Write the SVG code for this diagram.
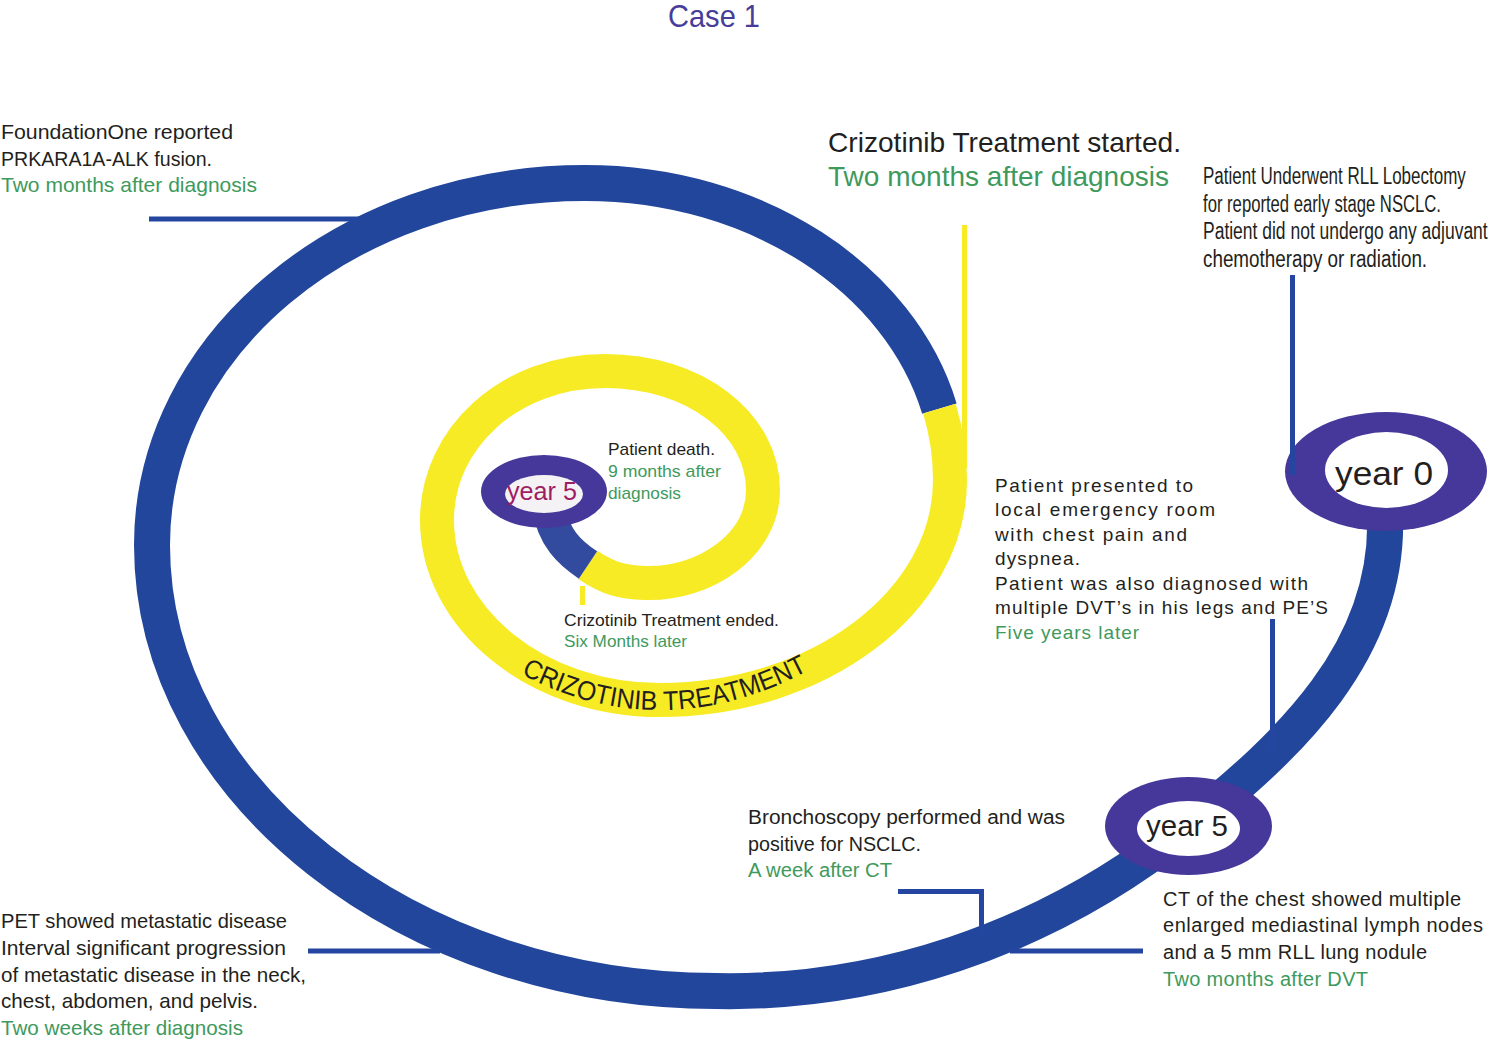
<svg xmlns="http://www.w3.org/2000/svg" width="1490" height="1041" viewBox="0 0 1490 1041">
<style>
  text { font-family: "Liberation Sans", Arial, sans-serif; fill: #231f20; }
  .g { fill: #3e9a5c; }
  .title { fill: #473d99; font-size: 32px; }
  .band { fill: none; stroke-linecap: butt; stroke-linejoin: round; }
  .blue { stroke: #22469b; stroke-width: 36; }
  .yellow { stroke: #f7eb25; stroke-width: 34; }
  .tail { stroke: #334b9e; stroke-width: 33; }
  .ring { fill: #45389a; }
  .hole { fill: #ffffff; }
  .conn { fill: none; stroke: #2446a0; stroke-width: 5; }
  .connY { fill: none; stroke: #f7eb25; stroke-width: 5; }
  .s17 { font-size: 17px; }
  .s19 { font-size: 19px; }
  .s20 { font-size: 20px; }
  .s21 { font-size: 21px; }
  .s23 { font-size: 23px; }
  .s28 { font-size: 28px; }
</style>
<defs>
  <path id="critext" d="M 521 674 Q 665 750 817 666"/>
</defs>

<text class="title" x="668" y="27" textLength="92" lengthAdjust="spacingAndGlyphs">Case 1</text>

<g id="timeline">
  <path class="band blue" d="M 1385 515 C 1390 650, 1290 745, 1188 826 C 1040 945, 870 994, 716 991 C 410 991, 152 791, 152 545 C 152 345, 346 183, 585 183 C 756.7 183, 900.3 279.1, 939.4 408.6"/>
  <path class="band yellow" d="M 939.4 408.6 C 946.3 431.5, 950 455.4, 950 480 C 950 601.5, 819 700, 660 700 C 537 700, 437 619, 437 520 C 437 438, 510 371, 605 371 C 695 371, 763 424, 763 490 C 763 545, 705 585, 645 583 C 622 582, 609 579, 588 565"/>
  <path class="band tail" d="M 588 565 C 570 553, 553 538, 548 505"/>
  <text font-size="27"><textPath href="#critext" textLength="300" lengthAdjust="spacingAndGlyphs">CRIZOTINIB TREATMENT</textPath></text>
</g>

<g id="node-year0">
  <ellipse class="ring" cx="1386" cy="471.5" rx="101" ry="59.5"/>
  <ellipse class="hole" cx="1386.5" cy="470" rx="61.5" ry="38"/>
  <text x="1335" y="485" font-size="34" textLength="98" lengthAdjust="spacingAndGlyphs">year 0</text>
</g>

<g id="node-year5">
  <ellipse class="ring" cx="1188.5" cy="826" rx="83.5" ry="49"/>
  <ellipse class="hole" cx="1188.5" cy="828.5" rx="51.5" ry="27.5"/>
  <text x="1146" y="836" font-size="29.5" textLength="82" lengthAdjust="spacingAndGlyphs">year 5</text>
</g>

<g id="node-year5-end">
  <ellipse class="ring" cx="544" cy="491.5" rx="63" ry="36.5"/>
  <ellipse cx="544" cy="494" rx="39" ry="19" fill="#f4f2f5"/>
  <text x="507" y="500" font-size="25.5" textLength="70" lengthAdjust="spacingAndGlyphs" style="fill:#9e1d63">year 5</text>
</g>

<g id="connectors">
  <path class="conn" d="M 149 219 H 360"/>
  <path class="connY" d="M 964.5 225 V 468"/>
  <path class="conn" d="M 1292.5 275 V 475"/>
  <path class="conn" d="M 1272.5 619 V 750"/>
  <path class="conn" d="M 898 891.5 H 981.5 V 935"/>
  <path class="conn" d="M 1010 951 H 1143"/>
  <path class="conn" d="M 308 951 H 440"/>
  <rect x="580" y="586" width="5" height="19" fill="#f7eb25"/>
</g>

<g id="label-foundationone" class="s21">
  <text x="1" y="139" textLength="232" lengthAdjust="spacingAndGlyphs">FoundationOne reported</text>
  <text x="1" y="165.5" textLength="211" lengthAdjust="spacingAndGlyphs">PRKARA1A-ALK fusion.</text>
  <text class="g" x="1" y="191.5" textLength="256" lengthAdjust="spacingAndGlyphs">Two months after diagnosis</text>
</g>

<g id="label-crizotinib-started" class="s28">
  <text x="828" y="152" textLength="353" lengthAdjust="spacingAndGlyphs">Crizotinib Treatment started.</text>
  <text class="g" x="828" y="186" textLength="341" lengthAdjust="spacingAndGlyphs">Two months after diagnosis</text>
</g>

<g id="label-lobectomy" class="s23">
  <text transform="translate(1203 184) scale(0.73 1)" textLength="360" lengthAdjust="spacingAndGlyphs">Patient Underwent RLL Lobectomy</text>
  <text transform="translate(1203 211.5) scale(0.73 1)" textLength="326" lengthAdjust="spacingAndGlyphs">for reported early stage NSCLC.</text>
  <text transform="translate(1203 239) scale(0.73 1)" textLength="390" lengthAdjust="spacingAndGlyphs">Patient did not undergo any adjuvant</text>
  <text transform="translate(1203 266.5) scale(0.73 1)" textLength="307" lengthAdjust="spacingAndGlyphs">chemotherapy or radiation.</text>
</g>

<g id="label-emergency" class="s19">
  <text x="995" y="491.5" textLength="198" lengthAdjust="spacing">Patient presented to</text>
  <text x="995" y="516" textLength="220" lengthAdjust="spacing">local emergency room</text>
  <text x="995" y="540.5" textLength="192" lengthAdjust="spacing">with chest pain and</text>
  <text x="995" y="565" textLength="85" lengthAdjust="spacing">dyspnea.</text>
  <text x="995" y="589.5" textLength="313" lengthAdjust="spacing">Patient was also diagnosed with</text>
  <text x="995" y="614" textLength="333" lengthAdjust="spacing">multiple DVT’s in his legs and PE’S</text>
  <text class="g" x="995" y="638.5" textLength="144" lengthAdjust="spacing">Five years later</text>
</g>

<g id="label-bronchoscopy" class="s20">
  <text x="748" y="823.5" textLength="317" lengthAdjust="spacingAndGlyphs">Bronchoscopy performed and was</text>
  <text x="748" y="850.5" textLength="173" lengthAdjust="spacingAndGlyphs">positive for NSCLC.</text>
  <text class="g" x="748" y="877" textLength="144" lengthAdjust="spacingAndGlyphs">A week after CT</text>
</g>

<g id="label-ct" class="s20">
  <text x="1163" y="905.5" textLength="298" lengthAdjust="spacing">CT of the chest showed multiple</text>
  <text x="1163" y="932.2" textLength="320" lengthAdjust="spacing">enlarged mediastinal lymph nodes</text>
  <text x="1163" y="959" textLength="264" lengthAdjust="spacing">and a 5 mm RLL lung nodule</text>
  <text class="g" x="1163" y="985.7" textLength="205" lengthAdjust="spacing">Two months after DVT</text>
</g>

<g id="label-pet" class="s21">
  <text x="1" y="928.3" textLength="286" lengthAdjust="spacingAndGlyphs">PET showed metastatic disease</text>
  <text x="1" y="955" textLength="285" lengthAdjust="spacingAndGlyphs">Interval significant progression</text>
  <text x="1" y="981.7" textLength="305" lengthAdjust="spacingAndGlyphs">of metastatic disease in the neck,</text>
  <text x="1" y="1008.3" textLength="257" lengthAdjust="spacingAndGlyphs">chest, abdomen, and pelvis.</text>
  <text class="g" x="1" y="1035" textLength="242" lengthAdjust="spacingAndGlyphs">Two weeks after diagnosis</text>
</g>

<g id="label-death" class="s17">
  <text x="608" y="455" textLength="107" lengthAdjust="spacingAndGlyphs">Patient death.</text>
  <text class="g" x="608" y="477.3" textLength="113" lengthAdjust="spacingAndGlyphs">9 months after</text>
  <text class="g" x="608" y="499.3" textLength="73" lengthAdjust="spacingAndGlyphs">diagnosis</text>
</g>

<g id="label-crizotinib-ended" class="s17">
  <text x="564" y="625.7" textLength="215" lengthAdjust="spacingAndGlyphs">Crizotinib Treatment ended.</text>
  <text class="g" x="564" y="647.3" textLength="123" lengthAdjust="spacingAndGlyphs">Six Months later</text>
</g>
</svg>
